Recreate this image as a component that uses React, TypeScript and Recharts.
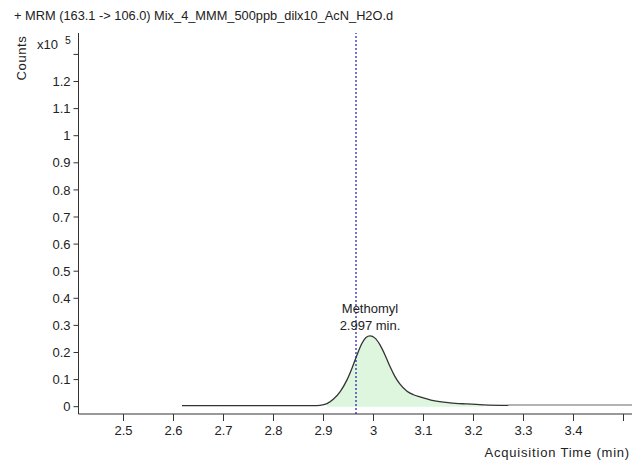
import React from "react";
import {
  Area,
  ComposedChart,
  Line,
  ReferenceDot,
  ReferenceLine,
  XAxis,
  YAxis
} from "recharts";

// counts are in units of 10^5
const traceTimes = [
  2.617, 2.7, 2.8, 2.88, 2.893, 2.907, 2.92, 2.933, 2.947, 2.957, 2.967, 2.977,
  2.985, 2.993, 3.003, 3.013, 3.023, 3.033, 3.043, 3.053, 3.067, 3.08, 3.093,
  3.12, 3.153, 3.187, 3.22, 3.27
];
const traceCounts = [
  0.004, 0.004, 0.004, 0.004, 0.005, 0.011, 0.028, 0.055, 0.099, 0.142, 0.191,
  0.234, 0.255, 0.261, 0.253, 0.228, 0.191, 0.148, 0.111, 0.083, 0.057, 0.044,
  0.036, 0.022, 0.014, 0.01, 0.007, 0.005
];
const tailTimes = [3.27, 3.517];
const tailCounts = [0.006, 0.006];

const integrationStart = 2.9;
const integrationEnd = 3.22;
const markerTime = 2.965;
const peakName = "Methomyl";
const peakLabel = "2.997 min.";
const peakTime = 2.993;
const peakCount = 0.261;

const xTicks = [2.5, 2.6, 2.7, 2.8, 2.9, 3, 3.1, 3.2, 3.3, 3.4, 3.5];
const xHidden = [3.5];
const yTicks = [0, 0.1, 0.2, 0.3, 0.4, 0.5, 0.6, 0.7, 0.8, 0.9, 1, 1.1, 1.2, 1.3];
const yHidden = [1.3];

const title = "+ MRM (163.1 -> 106.0) Mix_4_MMM_500ppb_dilx10_AcN_H2O.d";

const data = [
  ...traceTimes.map((t, i) => ({
    t,
    trace: traceCounts[i],
    area: t >= integrationStart && t <= integrationEnd ? traceCounts[i] : null,
    tail: null as number | null
  })),
  ...tailTimes.map((t, i) => ({ t, trace: null, area: null, tail: tailCounts[i] }))
];

const FONT = "'Liberation Sans', Arial, sans-serif";
const AXIS = "#333";

const XTick = (props: any) => {
  const { x, y, payload } = props;
  if (xHidden.includes(payload.value)) return <g />;
  return (
    <text x={x} y={y} dy="0.71em" textAnchor="middle" fontSize={13} fill="#222" fontFamily={FONT}>
      {String(payload.value)}
    </text>
  );
};

const YTick = (props: any) => {
  const { x, y, payload } = props;
  if (yHidden.includes(payload.value)) return <g />;
  return (
    <text x={x} y={y} dy="0.355em" textAnchor="end" fontSize={13} fill="#222" fontFamily={FONT}>
      {String(payload.value)}
    </text>
  );
};

const PeakLabel = (props: any) => {
  const { cx, cy } = props;
  return (
    <g fontFamily={FONT} fontSize={13} fill="#222" textAnchor="middle">
      <text x={cx} y={cy - 23}>{peakName}</text>
      <text x={cx} y={cy - 6}>{peakLabel}</text>
    </g>
  );
};

export default function App() {
  return (
    <div style={{ position: "absolute", left: 0, top: 0, width: 635, height: 469, background: "#fff" }}>
      <ComposedChart
        width={635}
        height={469}
        data={data}
        margin={{ top: 33, right: 3, bottom: 0, left: 0 }}
      >
        <XAxis
          dataKey="t"
          type="number"
          domain={[2.41, 3.517]}
          ticks={xTicks}
          allowDataOverflow
          height={55}
          stroke={AXIS}
          tickSize={7}
          tickMargin={5}
          tick={<XTick />}
        />
        <YAxis
          type="number"
          domain={[-0.027, 1.379]}
          ticks={yTicks}
          allowDataOverflow
          width={78.5}
          stroke={AXIS}
          tickSize={5}
          tickMargin={3}
          tick={<YTick />}
        />
        <Area
          dataKey="area"
          type="monotone"
          baseValue={0}
          stroke="none"
          fill="#ddf6dd"
          fillOpacity={1}
          isAnimationActive={false}
          dot={false}
          activeDot={false}
        />
        <Line
          dataKey="tail"
          type="linear"
          stroke="#9a9a9a"
          strokeWidth={1.4}
          dot={false}
          activeDot={false}
          isAnimationActive={false}
        />
        <Line
          dataKey="trace"
          type="monotone"
          stroke="#333"
          strokeWidth={1.3}
          dot={false}
          activeDot={false}
          isAnimationActive={false}
        />
        <ReferenceLine
          x={markerTime}
          stroke="#1c1ca8"
          strokeWidth={1.2}
          strokeDasharray="2 2"
        />
        <ReferenceDot x={peakTime} y={peakCount} r={0} shape={<PeakLabel />} />
      </ComposedChart>
      <svg
        width={635}
        height={469}
        style={{ position: "absolute", left: 0, top: 0, pointerEvents: "none" }}
        fontFamily={FONT}
        fill="#222"
      >
        <text x={14} y={20} fontSize={12.8}>{title}</text>
        <text
          x={26}
          y={58}
          fontSize={13}
          letterSpacing={0.6}
          textAnchor="middle"
          transform="rotate(-90 26 58)"
        >
          Counts
        </text>
        <text x={37} y={49} fontSize={13}>x10</text>
        <text x={65} y={44} fontSize={10.5}>5</text>
        <text x={630} y={457} fontSize={13} letterSpacing={0.8} textAnchor="end">
          Acquisition Time (min)
        </text>
      </svg>
    </div>
  );
}
